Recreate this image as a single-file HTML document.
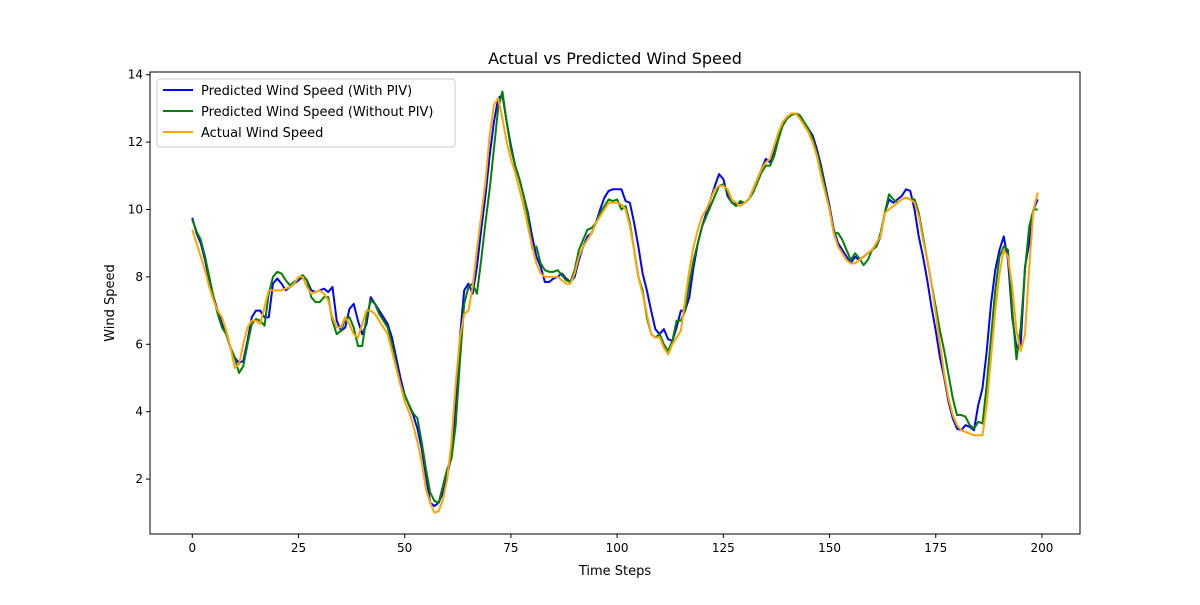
<!DOCTYPE html>
<html><head><meta charset="utf-8"><style>
body{margin:0;background:#fff;}
svg text{font-family:"DejaVu Sans","Liberation Sans",sans-serif;fill:#000;}
</style></head><body>
<svg id="chart" width="1200" height="600" xmlns="http://www.w3.org/2000/svg">
<rect width="1200" height="600" fill="#fff"/>
<text x="615" y="64" font-size="16" text-anchor="middle">Actual vs Predicted Wind Speed</text>
<text x="615" y="575" font-size="13" text-anchor="middle">Time Steps</text>
<text x="114" y="303" font-size="13" text-anchor="middle" transform="rotate(-90 114 303)">Wind Speed</text>
<g id="ticks"></g>
<g id="series"></g>
<rect x="150" y="72" width="930" height="462" fill="none" stroke="#000" stroke-width="1"/>
<g>
<rect x="157" y="79" width="298" height="68" rx="3" fill="#fff" fill-opacity="0.8" stroke="#ccc"/>
<g><line x1="163" y1="90" x2="193" y2="90" stroke="blue" stroke-width="2"/><text x="201" y="95" font-size="13">Predicted Wind Speed (With PIV)</text></g>
<g><line x1="163" y1="111" x2="193" y2="111" stroke="green" stroke-width="2"/><text x="201" y="116" font-size="13">Predicted Wind Speed (Without PIV)</text></g>
<g><line x1="163" y1="132" x2="193" y2="132" stroke="orange" stroke-width="2"/><text x="201" y="137" font-size="13">Actual Wind Speed</text></g>
</g>
</svg>
<script>
const xTicks = [0,25,50,75,100,125,150,175,200];
const yTicks = [2,4,6,8,10,12,14];
const actual = [9.4,9.0,8.6,8.2,7.7,7.3,7.0,6.8,6.4,5.9,
5.3,5.4,6.0,6.5,6.7,6.7,6.6,7.1,7.6,7.6,
7.6,7.6,7.65,7.7,7.8,8.0,8.0,7.7,7.5,7.55,
7.6,7.5,7.3,6.8,6.5,6.5,6.8,6.6,6.3,6.2,
6.6,7.0,7.0,6.9,6.7,6.5,6.3,5.8,5.3,4.8,
4.3,4.0,3.6,3.1,2.5,1.7,1.3,1.0,1.05,1.4,
2.0,3.1,4.8,6.2,6.9,7.0,7.7,8.8,9.8,10.8,
12.2,13.1,13.3,12.7,12.0,11.5,11.1,10.6,10.1,9.5,
8.9,8.4,8.1,8.0,8.0,8.0,8.0,7.9,7.8,7.8,
8.1,8.6,8.9,9.1,9.3,9.6,9.8,10.0,10.2,10.2,
10.2,10.15,10.0,9.5,8.8,8.0,7.5,6.9,6.3,6.2,
6.2,5.9,5.7,6.0,6.2,6.4,7.3,8.2,8.9,9.4,
9.8,10.0,10.3,10.6,10.7,10.7,10.6,10.3,10.2,10.1,
10.2,10.3,10.6,10.9,11.2,11.4,11.5,11.9,12.3,12.6,
12.75,12.85,12.85,12.7,12.5,12.3,12.0,11.6,11.0,10.5,
10.0,9.3,8.9,8.7,8.5,8.4,8.4,8.5,8.6,8.7,
8.8,9.0,9.2,9.9,10.0,10.1,10.2,10.3,10.35,10.3,
10.2,9.8,9.1,8.5,7.8,6.9,6.0,5.1,4.4,3.9,
3.6,3.45,3.4,3.35,3.3,3.3,3.3,4.2,5.6,7.0,
8.1,8.8,8.6,7.7,6.4,5.8,6.3,8.3,10.0,10.5];
const withPiv = [9.75,9.3,9.0,8.5,7.9,7.4,7.0,6.6,6.3,5.9,
5.6,5.45,5.5,6.1,6.8,7.0,7.0,6.8,6.8,7.8,
7.95,7.8,7.6,7.7,7.8,7.9,8.0,7.9,7.6,7.55,
7.6,7.65,7.55,7.7,6.7,6.4,6.5,7.05,7.2,6.7,
6.3,6.6,7.4,7.2,7.0,6.8,6.6,6.2,5.6,5.0,
4.5,4.2,3.9,3.5,2.9,2.1,1.3,1.2,1.3,1.6,
2.1,2.7,4.2,6.2,7.6,7.8,7.5,8.3,9.4,10.4,
11.6,12.6,13.3,13.4,12.6,11.9,11.3,10.9,10.4,9.9,
9.2,8.6,8.3,7.85,7.85,7.95,8.0,8.1,7.95,7.85,
8.0,8.5,8.9,9.2,9.3,9.6,10.0,10.35,10.55,10.6,
10.6,10.6,10.25,10.2,9.6,8.9,8.1,7.6,7.0,6.45,
6.3,6.45,6.15,6.1,6.5,7.0,7.0,7.4,8.3,9.0,
9.5,9.9,10.3,10.7,11.05,10.9,10.4,10.2,10.15,10.2,
10.2,10.3,10.6,10.9,11.2,11.5,11.4,11.7,12.2,12.5,
12.7,12.8,12.85,12.75,12.55,12.4,12.2,11.8,11.3,10.7,
10.1,9.4,9.0,8.8,8.6,8.4,8.6,8.5,8.6,8.7,
8.8,8.9,9.2,9.9,10.3,10.2,10.3,10.4,10.6,10.55,
10.0,9.2,8.6,7.9,7.1,6.4,5.6,5.0,4.3,3.8,
3.5,3.45,3.6,3.55,3.45,4.2,4.7,5.8,7.2,8.2,
8.8,9.2,8.5,6.8,5.9,6.0,8.3,9.0,10.0,10.3];
const withoutPiv = [9.7,9.35,9.1,8.6,8.0,7.4,6.9,6.5,6.3,5.9,
5.6,5.15,5.35,6.0,6.6,6.75,6.7,6.55,7.5,8.0,
8.15,8.1,7.9,7.75,7.85,7.95,8.05,7.9,7.4,7.25,
7.25,7.4,7.4,6.7,6.3,6.4,6.75,6.8,6.5,5.95,
5.95,6.8,7.3,7.2,6.9,6.7,6.5,6.0,5.4,4.8,
4.5,4.2,3.95,3.8,3.1,2.3,1.6,1.35,1.3,1.8,
2.3,2.6,3.6,5.5,7.2,7.7,7.8,7.5,8.5,9.6,
10.6,11.8,13.0,13.5,12.6,11.8,11.3,10.9,10.4,9.8,
8.85,8.9,8.4,8.2,8.15,8.15,8.2,8.05,7.9,7.85,
8.2,8.8,9.1,9.4,9.45,9.6,9.9,10.1,10.3,10.25,
10.3,10.0,10.1,9.6,8.8,8.0,7.6,6.8,6.3,6.2,
6.3,6.0,5.8,6.1,6.7,6.7,7.0,7.8,8.5,9.0,
9.5,9.8,10.1,10.4,10.7,10.75,10.5,10.2,10.1,10.25,
10.2,10.3,10.5,10.8,11.1,11.3,11.3,11.6,12.1,12.5,
12.7,12.8,12.85,12.8,12.6,12.4,12.1,11.7,11.2,10.6,
10.0,9.3,9.3,9.1,8.8,8.5,8.7,8.55,8.35,8.5,
8.8,8.9,9.3,9.9,10.45,10.3,10.2,10.3,10.35,10.3,
10.3,9.9,9.2,8.5,7.8,7.1,6.4,5.8,5.1,4.4,
3.9,3.9,3.85,3.6,3.5,3.7,3.65,4.8,6.2,7.6,
8.6,8.9,8.8,7.0,5.55,6.5,8.2,9.5,10.0,10.0];

const L=150,R=1080,T=72,B=534,XMIN=-9.95,XMAX=208.95,YMIN=0.37,YMAX=14.08;
const sx=v=>L+(v-XMIN)/(XMAX-XMIN)*(R-L);
const sy=v=>B-(v-YMIN)/(YMAX-YMIN)*(B-T);
const NS="http://www.w3.org/2000/svg";
const tg=document.getElementById('ticks');
xTicks.forEach(t=>{
  const l=document.createElementNS(NS,'line');
  l.setAttribute('x1',sx(t));l.setAttribute('x2',sx(t));l.setAttribute('y1',B);l.setAttribute('y2',B+4);l.setAttribute('stroke','#000');
  
  
  tg.appendChild(l);
  const tx=document.createElementNS(NS,'text');
  tx.setAttribute('x',sx(t));tx.setAttribute('y',B+18);tx.setAttribute('font-size','12');tx.setAttribute('text-anchor','middle');
  tx.textContent=t;
  
  
  tg.appendChild(tx);
});
yTicks.forEach(t=>{
  const l=document.createElementNS(NS,'line');
  l.setAttribute('x1',L-4);l.setAttribute('x2',L);l.setAttribute('y1',sy(t));l.setAttribute('y2',sy(t));l.setAttribute('stroke','#000');
  
  
  tg.appendChild(l);
  const tx=document.createElementNS(NS,'text');
  tx.setAttribute('x',L-7);tx.setAttribute('y',sy(t)+4);tx.setAttribute('font-size','12');tx.setAttribute('text-anchor','end');
  tx.textContent=t;
  
  
  tg.appendChild(tx);
});
const sg=document.getElementById('series');
function draw(arr,color,name){
  const p=document.createElementNS(NS,'polyline');
  p.setAttribute('points',arr.map((v,i)=>sx(i).toFixed(2)+','+sy(v).toFixed(2)).join(' '));
  p.setAttribute('fill','none');p.setAttribute('stroke',color);p.setAttribute('stroke-width','2');p.setAttribute('stroke-linejoin','round');
  
  
  sg.appendChild(p);
}
draw(withPiv,'blue','line-with-piv');
draw(withoutPiv,'green','line-without-piv');
draw(actual,'orange','line-actual');
</script>
</body></html>
